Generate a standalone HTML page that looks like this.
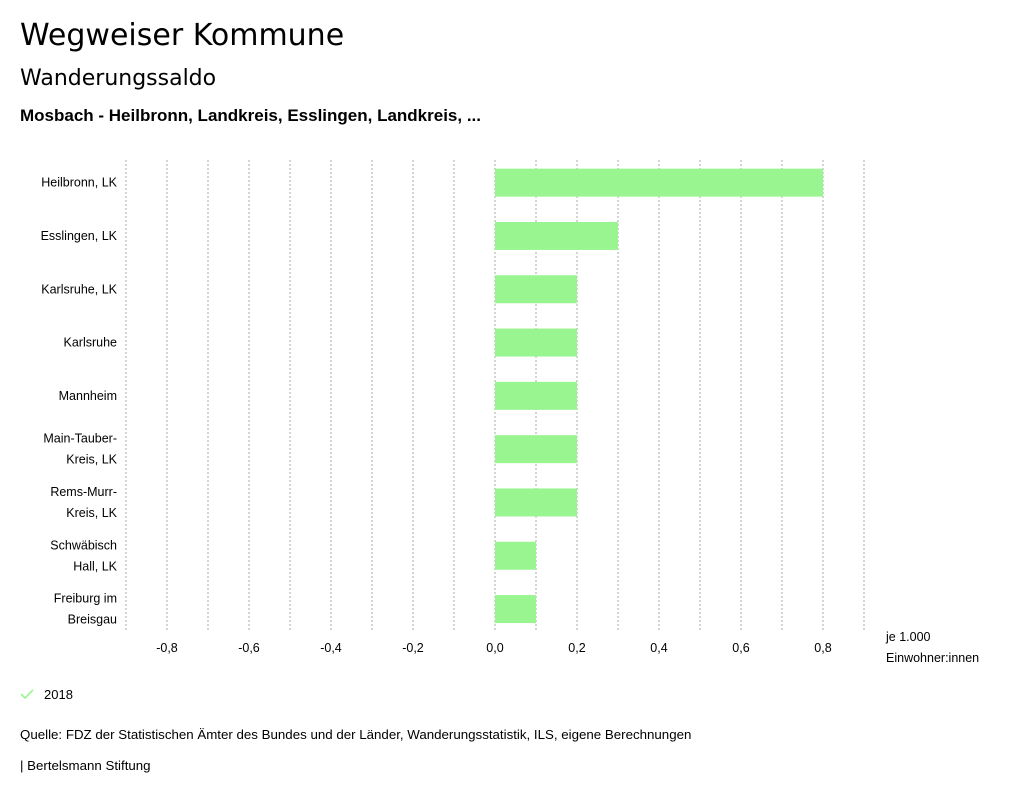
<!DOCTYPE html>
<html><head><meta charset="utf-8">
<style>
body{margin:0;width:1024px;height:798px;background:#fff;font-family:"DejaVu Sans","Liberation Sans",sans-serif;color:#000;overflow:hidden}
.t{position:absolute;white-space:nowrap}
</style></head><body>
<div class="t" style="left:20px;top:18px;font-size:30px">Wegweiser Kommune</div>
<div class="t" style="left:20px;top:66px;font-size:22px">Wanderungssaldo</div>
<div class="t" style="left:20px;top:106px;font-size:17px;font-weight:bold;font-family:'Liberation Sans',sans-serif">Mosbach - Heilbronn, Landkreis, Esslingen, Landkreis, ...</div>
<svg id="chart" width="1024" height="798" style="position:absolute;left:0;top:0;font-family:'Liberation Sans',sans-serif"></svg>
<div class="t" style="left:20px;top:687px;font-size:13px;font-family:'Liberation Sans',sans-serif"><svg width="14" height="12" style="vertical-align:-1px"><polyline points="1,6 5,10 13,2" fill="none" stroke="#99f590" stroke-width="1.6"/></svg><span style="margin-left:10px">2018</span></div>
<div class="t" style="left:20px;top:727px;font-size:13.3px;font-family:'Liberation Sans',sans-serif">Quelle: FDZ der Statistischen Ämter des Bundes und der Länder, Wanderungsstatistik, ILS, eigene Berechnungen</div>
<div class="t" style="left:20px;top:758px;font-size:13.3px;font-family:'Liberation Sans',sans-serif">| Bertelsmann Stiftung</div>
<script>
const categories=[["Heilbronn, LK"],["Esslingen, LK"],["Karlsruhe, LK"],["Karlsruhe"],["Mannheim"],["Main-Tauber-","Kreis, LK"],["Rems-Murr-","Kreis, LK"],["Schwäbisch","Hall, LK"],["Freiburg im","Breisgau"]];
const values=[0.8,0.3,0.2,0.2,0.2,0.2,0.2,0.1,0.1];
const ticks=[-0.8,-0.6,-0.4,-0.2,0,0.2,0.4,0.6,0.8];
const grid=[-0.9,-0.8,-0.7,-0.6,-0.5,-0.4,-0.3,-0.2,-0.1,0,0.1,0.2,0.3,0.4,0.5,0.6,0.7,0.8,0.9];
const svg=document.getElementById('chart');const NS='http://www.w3.org/2000/svg';
const x=v=>495+v*410;
const top0=156,step=53.3;
const yc=i=>top0+step*(i+0.5);
function mk(t,a){const e=document.createElementNS(NS,t);for(const k in a)e.setAttribute(k,a[k]);svg.appendChild(e);return e;}
grid.forEach(g=>{const l=mk('line',{x1:x(g),x2:x(g),y1:160,y2:632,stroke:'#aaa','stroke-dasharray':'2,2','stroke-width':1});

});
values.forEach((v,i)=>{const r=mk('rect',{x:Math.min(x(0),x(v)),y:yc(i)-14,width:Math.abs(x(v)-x(0)),height:28,fill:'#99f590'});


const lines=categories[i];
lines.forEach((s,j)=>{const t=mk('text',{x:117,y:yc(i)+4+(j-(lines.length-1)/2)*21,'text-anchor':'end','font-size':12.5});t.textContent=s;

});});
ticks.forEach(tv=>{const t=mk('text',{x:x(tv),y:652,'text-anchor':'middle','font-size':12.5});t.textContent=tv.toFixed(1).replace('.',',');

});
[["je 1.000",641],["Einwohner:innen",662]].forEach(([s,yy])=>{const t=mk('text',{x:886,y:yy,'font-size':12.5});t.textContent=s;

});
</script>
</body></html>
